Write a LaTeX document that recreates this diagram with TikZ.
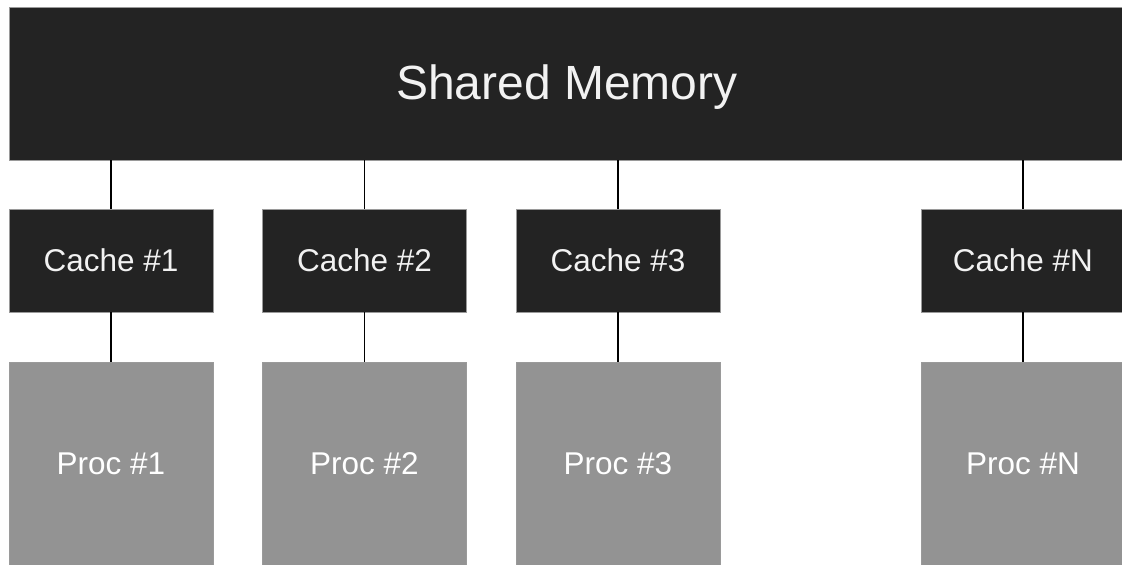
\documentclass[tikz,border=0pt]{standalone}
\usepackage{fontspec}
\setmainfont{Liberation Sans}
\definecolor{boxdark}{HTML}{232323}
\definecolor{boxgray}{HTML}{939393}
\definecolor{edgegray}{HTML}{9A9A9A}
\definecolor{labelwhite}{HTML}{F2F2F2}
\begin{document}
\begin{tikzpicture}[x=1pt,y=-1pt,
  membox/.style={fill=boxdark, draw=edgegray, line width=0.8pt, inner sep=0pt,
    minimum width=1116pt, minimum height=153pt, text=labelwhite,
    text depth=3.5pt, font=\fontsize{48}{52}\selectfont},
  cachebox/.style={fill=boxdark, draw=edgegray, line width=0.8pt, inner sep=0pt,
    minimum width=204pt, minimum height=103pt, text=labelwhite,
    font=\fontsize{31.5}{36}\selectfont},
  procbox/.style={fill=boxgray, draw=edgegray, line width=0.8pt, inner sep=0pt,
    minimum width=204pt, minimum height=204pt, text=white,
    font=\fontsize{31.5}{36}\selectfont},
  link/.style={draw=black, line width=1.5pt}]
\useasboundingbox (0,0) rectangle (1122,565);
\clip (0,0) rectangle (1122,565);

% shared memory bar across the top
\node[membox] (mem) at (567,83.5) {Shared Memory};

% caches
\node[cachebox] (c1) at (111,260.5) {Cache \#1};
\node[cachebox] (c2) at (364.5,260.5) {Cache \#2};
\node[cachebox] (c3) at (618,260.5) {Cache \#3};
\node[cachebox] (cN) at (1023,260.5) {Cache \#N};

% processors
\node[procbox] (p1) at (111,464) {Proc \#1};
\node[procbox] (p2) at (364.5,464) {Proc \#2};
\node[procbox] (p3) at (618,464) {Proc \#3};
\node[procbox] (pN) at (1023,464) {Proc \#N};

% memory to cache links
\foreach \c in {c1,c2,c3,cN}
  \draw[link] (\c.north) -- (\c.north |- mem.south);

% cache to processor links
\draw[link] (c1.south) -- (p1.north);
\draw[link] (c2.south) -- (p2.north);
\draw[link] (c3.south) -- (p3.north);
\draw[link] (cN.south) -- (pN.north);
\end{tikzpicture}
\end{document}
